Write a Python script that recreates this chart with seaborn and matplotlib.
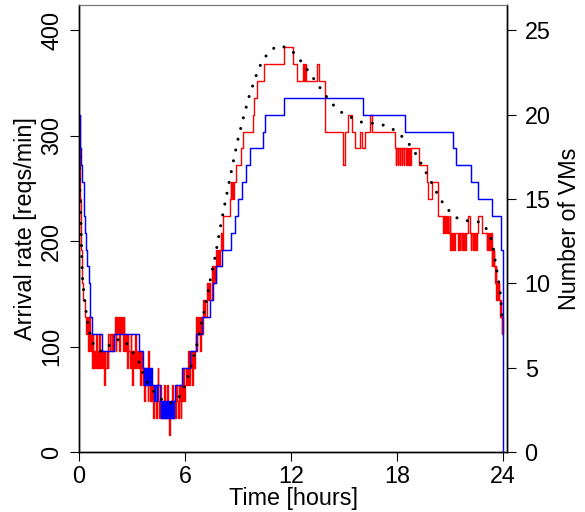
import numpy as np
import pandas as pd
import matplotlib
matplotlib.use("Agg")
import matplotlib.pyplot as plt
import seaborn as sns

# ---------------- data ----------------
# arrival rate (dotted black), hours -> reqs/min
arr_t = [0.0, 0.05, 0.1, 0.15, 0.19, 0.24, 0.3, 0.38, 0.45, 0.58, 0.68, 1.0, 1.3, 1.65, 2.0,
         2.5, 2.85, 3.11, 3.41, 3.6, 3.79, 4.1, 4.5, 5.0, 5.4, 5.8, 6.1, 6.41, 6.72, 7.1,
         7.45, 7.7, 8.02, 8.26, 8.51, 8.75, 9.0, 9.3, 9.62, 10.0, 10.2, 10.47, 10.77, 11.2,
         11.7, 12.13, 12.45, 12.77, 13.07, 13.37, 13.66, 13.96, 14.28, 14.64, 15.03, 15.47,
         15.96, 16.53, 17.05, 17.56, 17.98, 18.35, 18.68, 18.98, 19.24, 19.51, 19.77, 20.03,
         20.27, 20.56, 20.83, 21.19, 21.6, 22.17, 22.76, 23.08, 23.3, 23.45, 23.54, 23.64,
         23.75, 23.83, 23.88, 23.92, 23.98]
arr_v = [290, 250, 220, 190, 167, 157, 147, 136, 126, 116, 106, 98, 95, 100, 106,
         107, 100, 93, 85, 76, 68, 60, 52, 46, 47, 55, 68, 85, 105, 135,
         165, 185, 215, 236, 257, 277, 297, 317, 337, 356, 365, 373, 380, 385,
         384, 379, 373, 366, 359, 352, 345, 338, 331, 325, 320, 317,
         313, 312, 311, 308, 304, 298, 292, 285, 277, 269, 261, 253,
         245, 237, 231, 224, 220, 219, 218, 211, 203, 192, 182, 172,
         161, 151, 141, 131, 120]

# number of VMs, policy 1 (blue step line)
blue_t = [0.0, 0.03, 0.07, 0.1, 0.19, 0.27, 0.3, 0.34, 0.4, 0.47, 0.55, 0.61, 0.64, 0.75,
          1.28, 2.0, 3.41, 3.64, 3.7, 3.74, 3.78, 3.82, 3.86, 3.9, 3.94, 3.98, 4.02, 4.06,
          4.11, 4.25, 4.29, 4.4, 4.44, 4.58, 4.62, 4.66, 4.7, 4.74, 4.78, 4.82, 4.86, 4.9,
          4.94, 4.98, 5.02, 5.06, 5.1, 5.14, 5.18, 5.22, 5.26, 5.3, 5.34, 5.38, 5.43, 5.81,
          6.28, 6.62, 6.94, 7.42, 7.6, 7.75, 8.1, 8.6, 8.85, 9.0, 9.25, 9.45, 9.65, 10.4,
          10.5, 11.6, 16.08, 18.45, 21.18, 21.34, 22.18, 22.56, 23.35, 23.86, 24.0]
blue_v = [20, 19, 18, 17, 16, 15, 14, 13, 12, 11, 10, 9, 8, 7,
          6, 7, 6, 5, 4, 5, 4, 5, 4, 5, 4, 5, 4, 5,
          4, 3, 4, 3, 4, 3, 2, 3, 2, 3, 2, 3, 2, 3,
          2, 3, 2, 3, 2, 3, 2, 3, 2, 3, 2, 3, 4, 5,
          6, 7, 8, 9, 10, 11, 12, 13, 14, 15, 16, 17, 18, 19,
          20, 21, 20, 19, 18, 17, 16, 15, 14, 12, 0]

# number of VMs, policy 2 (red step line)
red_t = [0.0, 0.03, 0.06, 0.09, 0.11, 0.15, 0.19, 0.24, 0.33, 0.4,
         0.45, 0.5, 0.55, 0.6, 0.65, 0.7, 0.74, 0.78, 0.82, 0.86,
         0.9, 0.95, 1.0, 1.05, 1.1, 1.15, 1.2, 1.26, 1.32, 1.38,
         1.42, 1.45, 1.5, 1.56, 1.62, 1.66, 1.75, 1.78, 1.85, 1.88,
         1.95, 1.98, 2.04, 2.08, 2.12, 2.17, 2.22, 2.27, 2.32, 2.37,
         2.42, 2.47, 2.52, 2.56, 2.6, 2.65, 2.7, 2.76, 2.8, 2.86,
         2.92, 2.97, 3.02, 3.05, 3.1, 3.15, 3.2, 3.26, 3.32, 3.38,
         3.45, 3.5, 3.55, 3.6, 3.65, 3.7, 3.76, 3.82, 3.88, 3.92,
         3.95, 4.0, 4.05, 4.1, 4.15, 4.2, 4.25, 4.3, 4.35, 4.4,
         4.45, 4.48, 4.53, 4.58, 4.63, 4.68, 4.74, 4.8, 4.85, 4.9,
         4.95, 5.0, 5.05, 5.11, 5.14, 5.2, 5.25, 5.3, 5.36, 5.42,
         5.48, 5.53, 5.58, 5.64, 5.7, 5.75, 5.8, 5.85, 5.9, 5.95,
         6.0, 6.05, 6.1, 6.15, 6.2, 6.26, 6.32, 6.38, 6.44, 6.5,
         6.55, 6.6, 6.65, 6.7, 6.75, 6.8, 6.85, 6.9, 6.95, 7.0,
         7.05, 7.1, 7.15, 7.22, 7.27, 7.3, 7.35, 7.42, 7.5, 7.56,
         7.62, 7.68, 7.75, 7.82, 7.88, 7.95, 8.0, 8.04, 8.08, 8.12,
         8.17, 8.54, 8.58, 8.62, 8.66, 8.7, 8.75, 8.88, 9.14, 9.26,
         9.86, 9.93, 10.08, 10.49, 11.61, 12.12, 12.31, 12.69, 12.74, 12.79,
         12.84, 13.48, 13.59, 13.91, 14.95, 15.03, 15.23, 15.44, 15.61, 15.89,
         15.99, 16.18, 16.46, 16.59, 17.87, 17.93, 17.96, 18.03, 18.06, 18.14,
         18.17, 18.26, 18.29, 18.38, 18.41, 18.5, 18.53, 18.62, 18.65, 18.74,
         18.77, 19.23, 19.7, 19.76, 20.0, 20.32, 20.6, 20.66, 20.7, 20.77,
         20.8, 20.87, 20.9, 20.97, 21.0, 21.05, 21.1, 21.16, 21.2, 21.27,
         21.45, 21.48, 21.55, 21.58, 21.65, 21.68, 21.75, 21.78, 21.85, 21.88,
         22.02, 22.11, 22.17, 22.2, 22.27, 22.3, 22.37, 22.4, 22.47, 22.5,
         22.58, 22.78, 23.06, 23.1, 23.15, 23.2, 23.25, 23.3, 23.34, 23.38,
         23.42, 23.46, 23.5, 23.55, 23.58, 23.62, 23.66, 23.7, 23.74, 23.77,
         23.81, 23.85, 23.88, 23.91, 23.95, 23.98, 24.0]
red_v = [20, 18, 15, 13, 12, 11, 10, 9, 8, 7,
         8, 6, 8, 7, 6, 7, 5, 7, 5, 6,
         5, 7, 5, 6, 5, 7, 5, 6, 5, 6,
         4, 6, 5, 6, 5, 7, 6, 7, 6, 7,
         6, 7, 8, 6, 8, 7, 8, 6, 8, 7,
         8, 6, 8, 7, 6, 7, 5, 7, 6, 5,
         7, 6, 4, 6, 5, 7, 5, 6, 5, 6,
         4, 6, 5, 4, 5, 3, 5, 4, 3, 6,
         4, 3, 5, 3, 4, 2, 4, 3, 2, 4,
         5, 3, 2, 4, 2, 3, 2, 4, 2, 3,
         2, 4, 2, 1, 3, 2, 4, 2, 3, 2,
         4, 3, 2, 4, 3, 2, 4, 3, 5, 3,
         4, 5, 4, 6, 4, 5, 6, 4, 6, 5,
         6, 8, 6, 8, 7, 8, 6, 8, 7, 9,
         8, 9, 8, 9, 10, 9, 10, 9, 11, 10,
         11, 10, 12, 11, 12, 11, 12, 13, 12, 13,
         14, 15, 16, 15, 16, 15, 16, 17, 18, 19,
         20, 21, 22, 23, 24, 23, 22, 23, 22, 23,
         22, 23, 22, 19, 17, 19, 20, 19, 18, 19,
         18, 19, 20, 19, 18, 17, 18, 17, 18, 17,
         18, 17, 18, 17, 18, 17, 18, 17, 18, 17,
         18, 17, 16, 15, 16, 14, 13, 14, 13, 14,
         13, 14, 13, 14, 12, 13, 12, 13, 12, 13,
         12, 13, 12, 13, 12, 13, 12, 13, 12, 13,
         14, 13, 12, 13, 12, 13, 12, 13, 12, 13,
         14, 13, 12, 13, 12, 13, 12, 13, 11, 12,
         11, 12, 11, 10, 11, 9, 10, 9, 10, 9,
         8, 9, 8, 7, 8, 7, 7]

x_ticks = [0, 6, 12, 18, 24]
y_ticks = [0, 100, 200, 300, 400]
vm_ticks = [0, 5, 10, 15, 20, 25]

arrivals = pd.DataFrame({"hours": arr_t, "rate": arr_v})
vm_blue = pd.DataFrame({"hours": blue_t, "vms": blue_v})
vm_red = pd.DataFrame({"hours": red_t, "vms": red_v})

# ---------------- style ----------------
sns.set_theme(style="ticks")
plt.rcParams["font.family"] = ["Liberation Sans", "DejaVu Sans"]
plt.rcParams["text.color"] = "black"
plt.rcParams["axes.labelcolor"] = "black"
plt.rcParams["xtick.color"] = "black"
plt.rcParams["ytick.color"] = "black"
plt.rcParams["axes.edgecolor"] = "black"
FS = 16.8

fig = plt.figure(figsize=(5.85, 5.12), dpi=100)
ax = fig.add_axes([0.1350, 0.1172, 0.7321, 0.8730])
ax2 = ax.twinx()

sns.lineplot(data=vm_red, x="hours", y="vms", ax=ax2, color="#ff0000",
             linewidth=1.0, drawstyle="steps-post", estimator=None, zorder=2)
sns.lineplot(data=vm_blue, x="hours", y="vms", ax=ax2, color="#0000ff",
             linewidth=1.05, drawstyle="steps-post", estimator=None, zorder=3)
sns.lineplot(data=arrivals, x="hours", y="rate", ax=ax, color="black",
             linewidth=2.2, linestyle=(0, (0.01, 3.6)), dash_capstyle="round",
             estimator=None, zorder=4)

ax.set_zorder(ax2.get_zorder() + 1)
ax.patch.set_visible(False)

ax.set_xlim(0, 24.23)
ax.set_ylim(0, 424)
ax2.set_ylim(0, 26.5)

ax.set_xticks(x_ticks)
ax.set_xticklabels([str(v) for v in x_ticks], fontsize=FS, color="black")
ax.set_yticks(y_ticks)
ax.set_yticklabels([str(v) for v in y_ticks], fontsize=FS, rotation=90, va="center",
                   color="black")
ax2.set_yticks(vm_ticks)
ax2.set_yticklabels([str(v) for v in vm_ticks], fontsize=FS, color="black")

ax.tick_params(axis="x", length=6.5, width=0.8, pad=3, colors="black")
ax.tick_params(axis="y", length=6.5, width=0.8, pad=5, colors="black")
ax2.tick_params(axis="y", length=6.5, width=0.8, pad=6, colors="black")

ax.set_xlabel("Time [hours]", fontsize=FS, color="black")
ax.set_ylabel("Arrival rate [reqs/min]", fontsize=FS, color="black")
ax2.set_ylabel("Number of VMs", fontsize=FS, color="black")
ax.xaxis.set_label_coords(0.5, -0.078)
ax.yaxis.set_label_coords(-0.098, 0.5)
ax2.yaxis.set_label_coords(1.118, 0.5)

for a in (ax, ax2):
    for side in ("left", "bottom", "right"):
        a.spines[side].set_color("black")
        a.spines[side].set_linewidth(1.0)
    a.spines["top"].set_color("#777777")
    a.spines["top"].set_linewidth(0.8)
    a.grid(False)

fig.savefig("out.png", dpi=100)
